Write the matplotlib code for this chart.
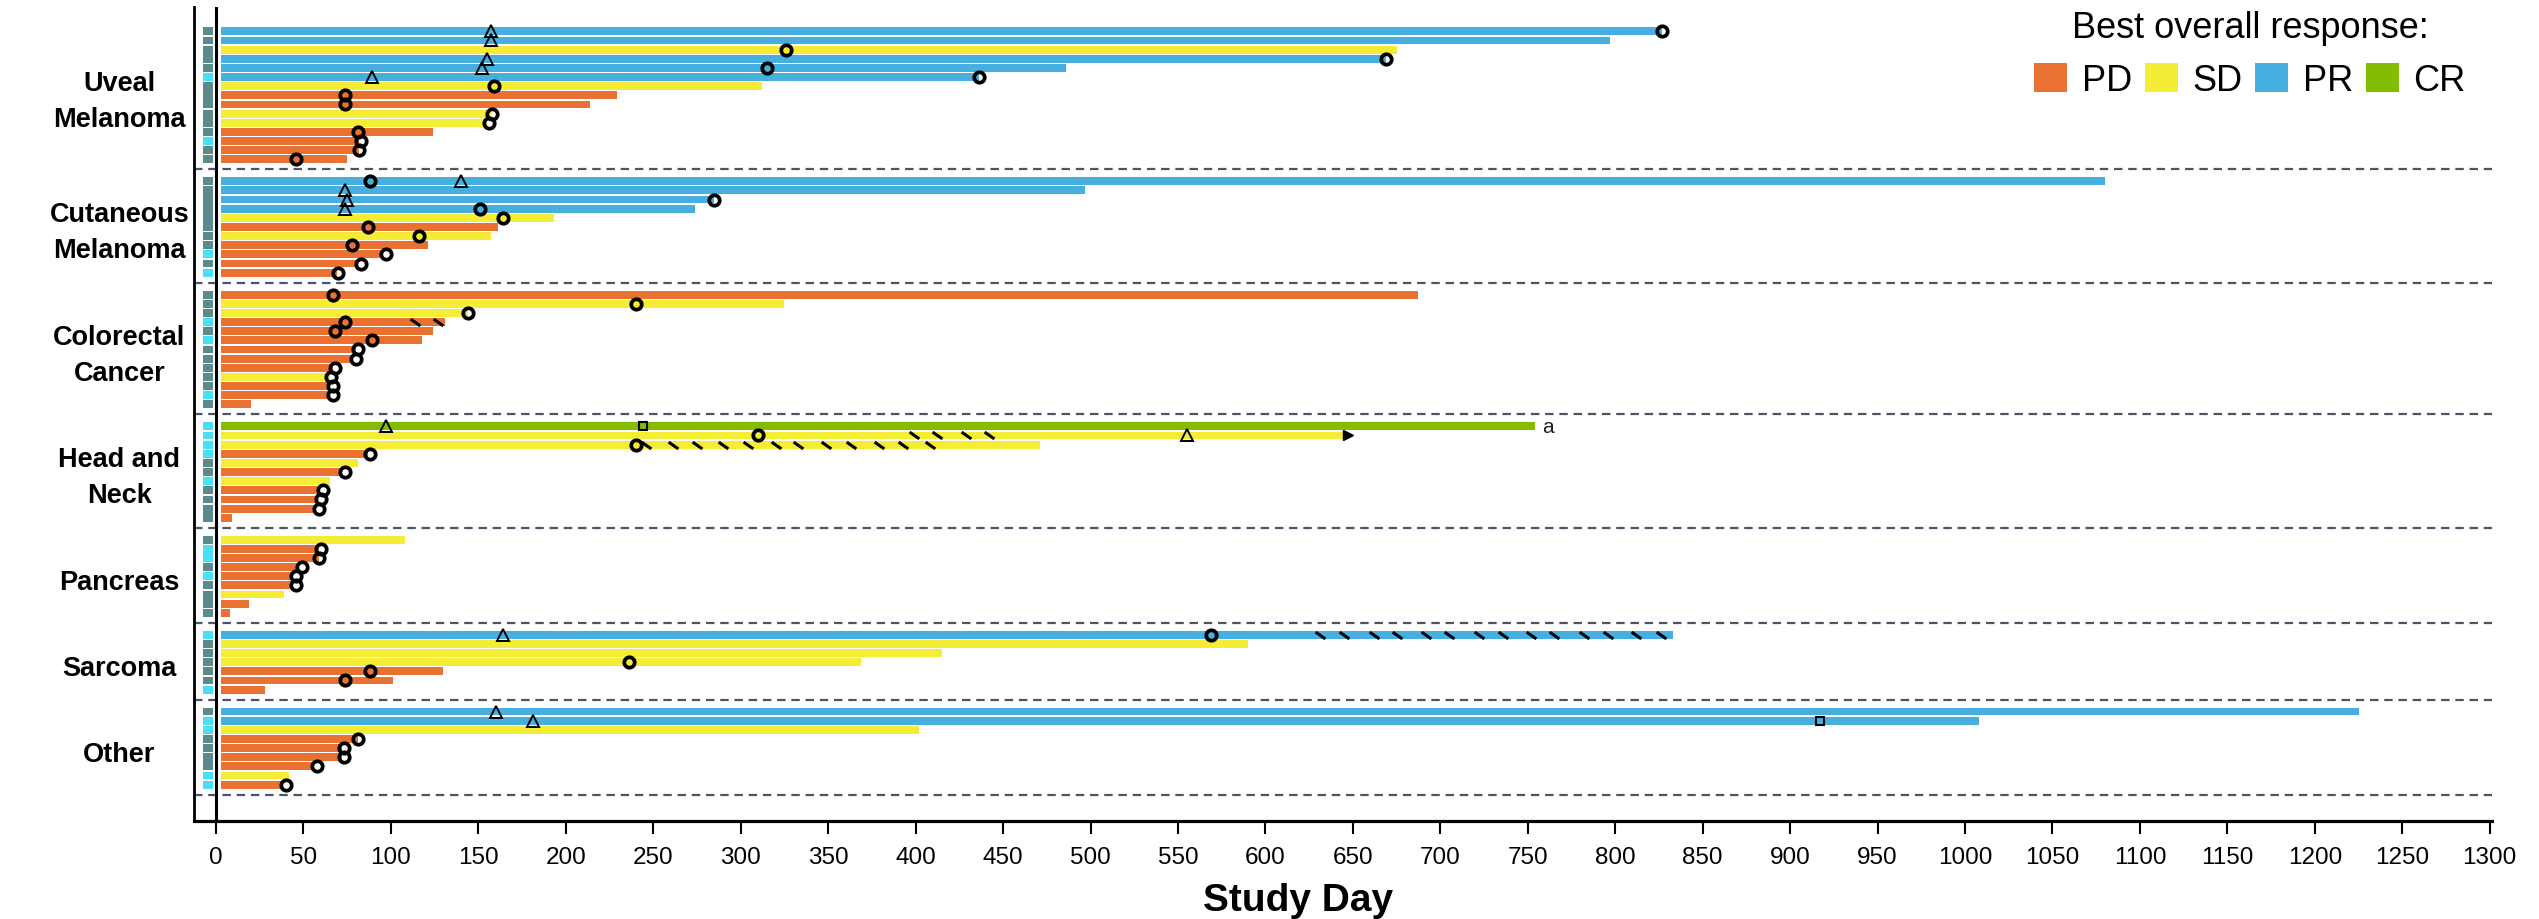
import numpy as np
import matplotlib
matplotlib.use("Agg")
import matplotlib.pyplot as plt
from matplotlib.patches import Patch
from matplotlib.path import Path
from matplotlib import transforms

plt.rcParams['font.family'] = ['Liberation Sans', 'DejaVu Sans']

# ---- data -------------------------------------------------------------
group_names = ["Uveal\nMelanoma", "Cutaneous\nMelanoma", "Colorectal\nCancer",
               "Head and\nNeck", "Pancreas", "Sarcoma", "Other"]

# study day at end of treatment, one entry per patient (top to bottom)
uveal_days = [827, 797, 675, 669, 486, 436, 312, 229, 214, 157, 155, 124, 82, 82, 75]
cutan_days = [1080, 497, 285, 274, 193, 161, 157, 121, 95, 80, 69]
colo_days = [687, 325, 144, 131, 124, 118, 80, 78, 67, 65, 65, 65, 20]
hn_days = [754, 645, 471, 87, 81, 71, 65, 59, 58, 57, 9]
panc_days = [108, 59, 59, 47, 44, 44, 39, 19, 8]
sarc_days = [833, 590, 415, 369, 130, 101, 28]
other_days = [1225, 1008, 402, 81, 72, 72, 56, 42, 37]

# best overall response
uveal_resp = ["PR", "PR", "SD", "PR", "PR", "PR", "SD", "PD", "PD", "SD", "SD", "PD", "PD", "PD", "PD"]
cutan_resp = ["PR", "PR", "PR", "PR", "SD", "PD", "SD", "PD", "PD", "PD", "PD"]
colo_resp = ["PD", "SD", "SD", "PD", "PD", "PD", "PD", "PD", "PD", "SD", "PD", "PD", "PD"]
hn_resp = ["CR", "SD", "SD", "PD", "SD", "PD", "SD", "PD", "PD", "PD", "PD"]
panc_resp = ["SD", "PD", "PD", "PD", "PD", "PD", "SD", "PD", "PD"]
sarc_resp = ["PR", "SD", "SD", "SD", "PD", "PD", "PD"]
other_resp = ["PR", "PR", "SD", "PD", "PD", "PD", "PD", "SD", "PD"]

# progression (open circle), None = no event
uveal_prog = [827, None, 326, 669, 315, 436, 159, 74, 74, 158, 156, 81, 83, 82, 46]
cutan_prog = [88, None, 285, 151, 164, 87, 116, 78, 97, 83, 70]
colo_prog = [67, 240, 144, 74, 68, 89, 81, 80, 68, 66, 67, 67, None]
hn_prog = [None, 310, 240, 88, None, 74, None, 61, 60, 59, None]
panc_prog = [None, 60, 59, 49, 46, 46, None, None, None]
sarc_prog = [569, None, None, 236, 88, 74, None]
other_prog = [None, None, None, 81, 73, 73, 58, None, 40]

# cohort strip at left: (cohort, number of rows in block)
uveal_cohort = [("A", 1), ("A", 1), ("A", 2), ("A", 1), ("B", 1), ("A", 3), ("A", 2),
                ("A", 1), ("B", 1), ("A", 1), ("A", 1)]
cutan_cohort = [("A", 1), ("A", 5), ("A", 1), ("A", 1), ("B", 1), ("A", 1), ("B", 1)]
colo_cohort = [("A", 1), ("A", 1), ("A", 1), ("B", 1), ("A", 1), ("B", 1), ("A", 1),
               ("A", 1), ("A", 1), ("A", 1), ("A", 1), ("B", 1), ("A", 1)]
hn_cohort = [("B", 1), ("B", 1), ("B", 1), ("B", 1), ("A", 1), ("A", 1), ("B", 1),
             ("A", 1), ("A", 1), ("A", 2)]
panc_cohort = [("A", 1), ("B", 2), ("A", 1), ("B", 1), ("A", 1), ("A", 2), ("A", 1)]
sarc_cohort = [("B", 1), ("A", 1), ("A", 1), ("A", 1), ("A", 1), ("A", 1), ("B", 1)]
other_cohort = [("A", 1), ("B", 1), ("B", 1), ("A", 1), ("A", 1), ("A", 2), ("B", 1), ("B", 1)]

# (group, row, day) events
first_response = [(0, 0, 157), (0, 1, 157), (0, 3, 155), (0, 4, 152), (0, 5, 89),
                  (1, 0, 140), (1, 1, 74), (1, 2, 75), (1, 3, 74),
                  (3, 0, 97), (3, 1, 555), (5, 0, 164), (6, 0, 160), (6, 1, 181)]
complete_response = [(3, 0, 244), (6, 1, 917)]
ongoing = [(3, 1, 645)]
footnotes = [(3, 0, 754, "a")]
# dose interruptions (group, row, days)
interruptions = [(2, 3, [114, 127]),
                 (3, 1, [399, 412, 429, 442]),
                 (3, 2, [246, 261, 275, 290, 304, 320, 333, 349, 363, 379, 393, 408]),
                 (5, 0, [631, 645, 662, 675, 692, 705, 722, 736, 752, 765, 782, 796, 812, 826])]

resp_labels = ["PD", "SD", "PR", "CR"]
resp_colors = ["#E97233", "#F5EC36", "#47AFDF", "#82BD02"]
cohort_colors = {"A": "#5A8A8A", "B": "#46E1F9"}

all_days = [uveal_days, cutan_days, colo_days, hn_days, panc_days, sarc_days, other_days]
all_resp = [uveal_resp, cutan_resp, colo_resp, hn_resp, panc_resp, sarc_resp, other_resp]
all_prog = [uveal_prog, cutan_prog, colo_prog, hn_prog, panc_prog, sarc_prog, other_prog]
all_cohort = [uveal_cohort, cutan_cohort, colo_cohort, hn_cohort, panc_cohort,
              sarc_cohort, other_cohort]

# ---- layout -----------------------------------------------------------
W, H = 2539, 920
fig = plt.figure(figsize=(W / 100, H / 100), dpi=100)
ax = fig.add_axes([194 / W, 98 / H, (2492 - 194) / W, 814 / H])

color_of = dict(zip(resp_labels, resp_colors))
gap = 2.4
bar_h = 0.86
start = 3

row_y = []
y0 = 0.0
for days in all_days:
    ys = y0 + np.arange(len(days))
    row_y.append(ys)
    y0 = ys[-1] + gap

label_tr = transforms.blended_transform_factory(fig.transFigure, ax.transData)

for g, days in enumerate(all_days):
    ys = row_y[g]
    d = np.array(days, dtype=float)
    ax.barh(ys, d - start, left=start, height=bar_h,
            color=[color_of[r] for r in all_resp[g]], zorder=2)

    prog = all_prog[g]
    px = [p for p in prog if p is not None]
    py = [ys[i] for i, p in enumerate(prog) if p is not None]
    ax.plot(px, py, 'o', ms=7.5, mfc='none', mec='black', mew=2.7, zorder=4)

    # cohort strip
    r = 0
    for coh, n in all_cohort[g]:
        ax.barh(ys[r] + (n - 1) / 2, 5.6, left=-7.5, height=n - 1 + bar_h,
                color=cohort_colors[coh], zorder=2)
        r += n

    ax.axhline(ys[-1] + 1.1, color='#4A5568', lw=1.6, ls=(0, (3.8, 2.6)), zorder=1)

    ax.text(0.047, ys.mean() + 0.6, group_names[g], transform=label_tr, ha='center',
            va='center', fontsize=19.5, fontweight='bold', linespacing=1.5)

for g, r, d in first_response:
    ax.plot(d, row_y[g][r], '^', ms=8, mfc='none', mec='black', mew=1.4, zorder=4)
for g, r, d in complete_response:
    ax.plot(d, row_y[g][r], 's', ms=5.5, mfc='none', mec='black', mew=1.5, zorder=4)
for g, r, d in ongoing:
    ax.plot(d + 2, row_y[g][r], '>', ms=7, color='black', zorder=4)
for g, r, d, t in footnotes:
    ax.text(d + 4, row_y[g][r], t, ha='left', va='center', fontsize=15, color='#222222')

slash = Path([(-1.0, 0.7), (1.0, -0.7)])
for g, r, ds in interruptions:
    ax.plot(ds, [row_y[g][r]] * len(ds), ls='none', marker=slash, ms=7,
            mec='black', mew=2.2, zorder=4)

ax.axvline(0, color='black', lw=2.2, zorder=3)

ax.set_xlim(-12.6, 1301.3)
ax.set_ylim(row_y[-1][-1] + 3.97, -2.66)
ax.set_xticks(np.arange(0, 1301, 50))
ax.set_yticks([])
ax.tick_params(axis='x', length=9, width=1.5, labelsize=17.5, pad=9)
for s in ['top', 'right']:
    ax.spines[s].set_visible(False)
ax.spines['left'].set_linewidth(2)
ax.spines['bottom'].set_linewidth(2.3)

ax.set_xlabel('Study Day', fontsize=28, fontweight='bold')
ax.xaxis.label.set_va('center')
ax.xaxis.set_label_coords(0.4804, -0.097)

handles = [Patch(facecolor=c, edgecolor='none') for c in resp_colors]
fig.legend(handles, resp_labels, ncol=4, frameon=False, loc='upper center',
           bbox_to_anchor=(2250 / W, 0.992), fontsize=26,
           title='Best overall response:', title_fontsize=26,
           handlelength=0.92, handleheight=0.85, handletextpad=0.4,
           columnspacing=0.35, borderpad=0.1, borderaxespad=0.0)

fig.savefig('out.png', dpi=100)
